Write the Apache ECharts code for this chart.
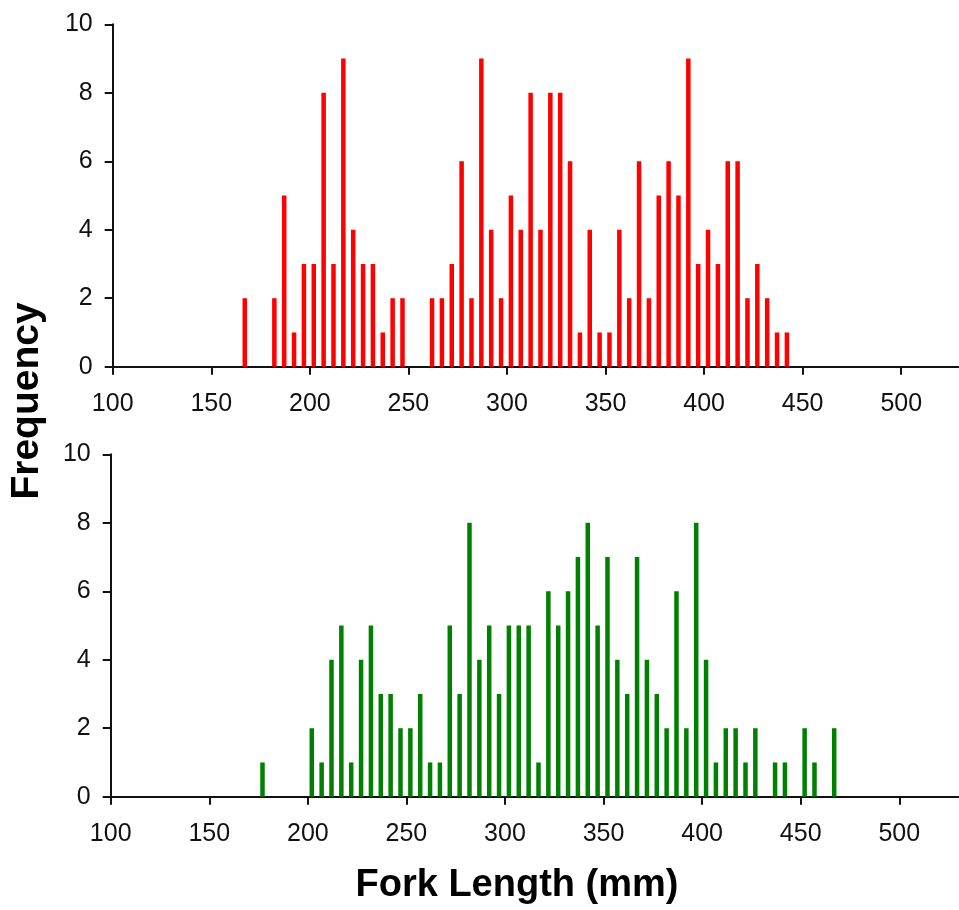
<!DOCTYPE html>
<html>
<head>
<meta charset="utf-8">
<script src="https://cdn.jsdelivr.net/npm/echarts@6/dist/echarts.min.js"></script>
<style>
html,body{margin:0;padding:0;background:#fff;}
#chart{width:959px;height:910px;}
</style>
</head>
<body>
<div id="chart"></div>
<script>
var topBins = [167,182,187,192,197,202,207,212,217,222,227,232,237,242,247,262,267,272,277,282,287,292,297,302,307,312,317,322,327,332,337,342,347,352,357,362,367,372,377,382,387,392,397,402,407,412,417,422,427,432,437,442];
var topFreq = [2,2,5,1,3,3,8,3,9,4,3,3,1,2,2,2,2,3,6,2,9,4,2,5,4,8,4,8,8,6,1,4,1,1,4,2,6,2,5,6,5,9,3,4,3,6,6,2,3,2,1,1];
var bottomBins = [177,202,207,212,217,222,227,232,237,242,247,252,257,262,267,272,277,282,287,292,297,302,307,312,317,322,327,332,337,342,347,352,357,362,367,372,377,382,387,392,397,402,407,412,417,422,427,437,442,452,457,467];
var bottomFreq = [1,2,1,4,5,1,4,5,3,3,2,2,3,1,1,5,3,8,4,5,3,5,5,5,1,6,5,6,7,8,5,7,4,3,7,4,3,2,6,2,8,4,1,2,2,1,2,1,1,2,1,2];
var xTicks = [100,150,200,250,300,350,400,450,500];
var yTicks = [0,2,4,6,8,10];
var xTitle = 'Fork Length (mm)';
var yTitle = 'Frequency';

function pairs(xs, ys){ return xs.map(function(x,i){ return [x, ys[i]]; }); }

var FONT = "'Liberation Sans', Arial, sans-serif";
var axisLine = {show:true, lineStyle:{color:'#111', width:2}};
function xAxis(gi, max){
  return {
    type:'value', gridIndex:gi, min:100, max:max, interval:50,
    axisLine: axisLine,
    axisTick:{show:true, length:8, inside:false, lineStyle:{color:'#111', width:2}, customValues:xTicks},
    axisLabel:{show:true, margin:25, fontSize:25, color:'#111', fontFamily:FONT, customValues:xTicks},
    splitLine:{show:false}
  };
}
function yAxis(gi){
  return {
    type:'value', gridIndex:gi, min:0, max:10, interval:2,
    axisLine: axisLine,
    axisTick:{show:true, length:8, inside:false, lineStyle:{color:'#111', width:2}, customValues:yTicks},
    axisLabel:{show:true, margin:20, fontSize:25, color:'#111', fontFamily:FONT, customValues:yTicks},
    splitLine:{show:false}
  };
}

var chart = echarts.init(document.getElementById('chart'), null, {renderer:'canvas'});
chart.setOption({
  animation:false,
  backgroundColor:'#fff',
  grid:[
    {left:112.7, top:24.3, width:845.7, height:342.4},
    {left:110.7, top:454.3, width:847.7, height:342.4}
  ],
  xAxis:[xAxis(0,529), xAxis(1,530)],
  yAxis:[yAxis(0), yAxis(1)],
  series:[
    {type:'bar', xAxisIndex:0, yAxisIndex:0, data:pairs(topBins, topFreq), barWidth:4.5, itemStyle:{color:'#ff0000'}},
    {type:'bar', xAxisIndex:1, yAxisIndex:1, data:pairs(bottomBins, bottomFreq), barWidth:4.5, itemStyle:{color:'#008000'}}
  ],
  graphic:[
    {type:'text', x:517, y:886, style:{text:xTitle, x:0, y:0, align:'center', verticalAlign:'middle', font:"bold 38px 'Liberation Sans', Arial, sans-serif", fill:'#000'}},
    {type:'text', rotation:Math.PI/2, x:27, y:401, style:{text:yTitle, x:0, y:0, align:'center', verticalAlign:'middle', font:"bold 39px 'Liberation Sans', Arial, sans-serif", fill:'#000'}}
  ]
});
</script>
</body>
</html>
